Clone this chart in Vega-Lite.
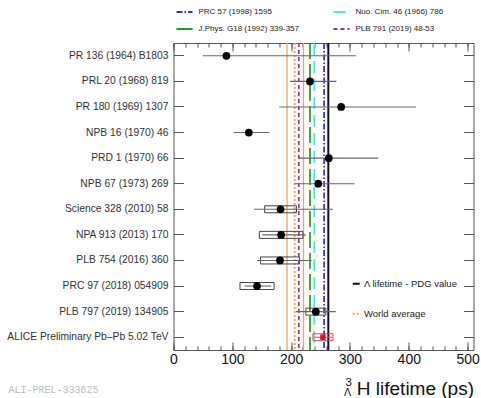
{
  "$schema": "https://vega.github.io/schema/vega-lite/v6.json",
  "width": 300,
  "height": 307,
  "autosize": {"type": "none"},
  "padding": {"left": 173.5, "top": 43, "right": 7.5, "bottom": 48},
  "background": "white",
  "title": {"text": "ALI-PREL-333625", "orient": "bottom", "anchor": "start", "frame": "bounds", "font": "Liberation Mono", "fontSize": 10, "fontWeight": "normal", "color": "#bbbbbb", "offset": -13, "dx": 2},
  "config": {
    "font": "Liberation Sans",
    "view": {"stroke": "#555555", "strokeWidth": 1},
    "axis": {"grid": false, "domain": false, "tickColor": "#555555", "tickWidth": 1}
  },
  "datasets": {
    "meas": [
      {"exp": "PR 136 (1964) B1803", "tau": 90, "lo": 50, "hi": 310, "slo": null, "shi": null},
      {"exp": "PRL 20 (1968) 819", "tau": 232, "lo": 198, "hi": 277, "slo": null, "shi": null},
      {"exp": "PR 180 (1969) 1307", "tau": 285, "lo": 180, "hi": 412, "slo": null, "shi": null},
      {"exp": "NPB 16 (1970) 46", "tau": 128, "lo": 102, "hi": 163, "slo": null, "shi": null},
      {"exp": "PRD 1 (1970) 66", "tau": 264, "lo": 212, "hi": 348, "slo": null, "shi": null},
      {"exp": "NPB 67 (1973) 269", "tau": 246, "lo": 205, "hi": 308, "slo": null, "shi": null},
      {"exp": "Science 328 (2010) 58", "tau": 182, "lo": 137, "hi": 271, "slo": 155, "shi": 209},
      {"exp": "NPA 913 (2013) 170", "tau": 183, "lo": 151, "hi": 225, "slo": 146, "shi": 220},
      {"exp": "PLB 754 (2016) 360", "tau": 181, "lo": 142, "hi": 235, "slo": 148, "shi": 214},
      {"exp": "PRC 97 (2018) 054909", "tau": 142, "lo": 121, "hi": 166, "slo": 113, "shi": 171},
      {"exp": "PLB 797 (2019) 134905", "tau": 242, "lo": 208, "hi": 276, "slo": 225, "shi": 259}
    ],
    "alice": [
      {"exp": "ALICE Preliminary Pb–Pb 5.02 TeV", "tau": 254, "lo": 239, "hi": 269, "slo": 237, "shi": 271}
    ],
    "theory": [
      {"name": "PRC 57 (1998) 1595", "tau": 256},
      {"name": "Nuo. Cim. 46 (1966) 786", "tau": 239.3},
      {"name": "J.Phys. G18 (1992) 339-357", "tau": 232},
      {"name": "PLB 791 (2019) 48-53", "tau": 213}
    ],
    "refs": [
      {"name": "Λ lifetime - PDG value", "tau": 263.2},
      {"name": "World average", "tau": 206}
    ],
    "band": [
      {"edge": "low", "tau": 193},
      {"edge": "high", "tau": 221}
    ]
  },
  "resolve": {
    "scale": {"color": "independent", "strokeDash": "independent"},
    "axis": {"x": "independent", "y": "independent"},
    "legend": {"color": "independent", "strokeDash": "independent"}
  },
  "layer": [
    {
      "data": {"name": "theory"},
      "mark": {"type": "rule", "strokeWidth": 1.7},
      "encoding": {
        "x": {"field": "tau", "type": "quantitative", "scale": {"domain": [0, 510], "nice": false, "zero": false},
          "axis": {"orient": "bottom", "values": [0, 100, 200, 300, 400, 500], "format": "d", "tickSize": -8, "labelFontSize": 14, "labelColor": "#111111", "labelPadding": 10, "labelFlush": false,
            "title": "H lifetime (ps)", "titleFontSize": 19, "titleFontWeight": "normal", "titleColor": "#111111", "titleAlign": "right", "titleAnchor": "end", "titleBaseline": "alphabetic", "titleX": 300, "titleY": 44}},
        "color": {"field": "name", "type": "nominal",
          "scale": {"domain": ["PRC 57 (1998) 1595", "J.Phys. G18 (1992) 339-357", "Nuo. Cim. 46 (1966) 786", "PLB 791 (2019) 48-53"], "range": ["#3333cc", "#229922", "#55dfe8", "#993399"]},
          "legend": {"orient": "none", "legendX": 2, "legendY": -40, "columns": 2, "title": null, "symbolType": "stroke", "symbolSize": 256, "symbolStrokeWidth": 2, "labelFontSize": 8, "labelColor": "#222222", "labelOffset": 5, "columnPadding": 30, "rowPadding": 4, "padding": 0, "labelLimit": 300}},
        "strokeDash": {"field": "name", "type": "nominal",
          "scale": {"domain": ["PRC 57 (1998) 1595", "J.Phys. G18 (1992) 339-357", "Nuo. Cim. 46 (1966) 786", "PLB 791 (2019) 48-53"], "range": [[6, 2, 1.5, 2], [16, 5], [12, 6], [4, 3]]}}
      }
    },
    {
      "data": {"name": "refs"},
      "mark": {"type": "rule", "strokeWidth": 2},
      "encoding": {
        "x": {"field": "tau", "type": "quantitative", "scale": {"domain": [0, 510], "nice": false, "zero": false},
          "axis": {"orient": "bottom", "values": [0, 20, 40, 60, 80, 100, 120, 140, 160, 180, 200, 220, 240, 260, 280, 300, 320, 340, 360, 380, 400, 420, 440, 460, 480, 500], "tickSize": -4, "labels": false, "title": null}},
        "color": {"field": "name", "type": "nominal",
          "scale": {"domain": ["Λ lifetime - PDG value", "World average"], "range": ["#111111", "#f2a65a"]},
          "legend": {"orient": "none", "legendX": 178, "legendY": 236, "title": null, "symbolType": "stroke", "symbolSize": 49, "symbolStrokeWidth": 2, "labelFontSize": 9.5, "labelColor": "#222222", "labelOffset": 3, "rowPadding": 19, "padding": 0, "labelLimit": 300}},
        "strokeDash": {"field": "name", "type": "nominal",
          "scale": {"domain": ["Λ lifetime - PDG value", "World average"], "range": [[1, 0], [2, 2]]}}
      }
    },
    {
      "data": {"name": "band"},
      "mark": {"type": "rule", "strokeWidth": 1.3, "color": "#f2a65a"},
      "encoding": {
        "x": {"field": "tau", "type": "quantitative", "scale": {"domain": [0, 510], "nice": false, "zero": false},
          "axis": {"orient": "top", "values": [0, 100, 200, 300, 400, 500], "tickSize": -8, "labels": false, "title": null}}
      }
    },
    {
      "data": {"name": "meas"},
      "transform": [{"filter": "isValid(datum.slo)"}],
      "mark": {"type": "bar", "size": 7, "fill": "transparent", "stroke": "#444444", "strokeWidth": 1},
      "encoding": {
        "x": {"field": "slo", "type": "quantitative", "scale": {"domain": [0, 510], "nice": false, "zero": false},
          "axis": {"orient": "top", "values": [0, 20, 40, 60, 80, 100, 120, 140, 160, 180, 200, 220, 240, 260, 280, 300, 320, 340, 360, 380, 400, 420, 440, 460, 480, 500], "tickSize": -4, "labels": false, "title": null}},
        "x2": {"field": "shi"},
        "y": {"field": "exp", "type": "nominal",
          "scale": {"type": "band", "domain": ["PR 136 (1964) B1803", "PRL 20 (1968) 819", "PR 180 (1969) 1307", "NPB 16 (1970) 46", "PRD 1 (1970) 66", "NPB 67 (1973) 269", "Science 328 (2010) 58", "NPA 913 (2013) 170", "PLB 754 (2016) 360", "PRC 97 (2018) 054909", "PLB 797 (2019) 134905", "ALICE Preliminary Pb–Pb 5.02 TeV"], "paddingInner": 0, "paddingOuter": 0},
          "axis": {"orient": "left", "tickSize": -10, "labelPadding": 15.5, "labelFontSize": 10.3, "labelColor": "#333333", "labelLimit": 250, "title": null}}
      }
    },
    {
      "data": {"name": "meas"},
      "mark": {"type": "rule", "color": "#666666", "strokeWidth": 1.1},
      "encoding": {
        "x": {"field": "lo", "type": "quantitative", "scale": {"domain": [0, 510], "nice": false, "zero": false},
          "axis": {"orient": "bottom", "labels": false, "ticks": false, "title": "3", "titleFontSize": 11.5, "titleFontWeight": "normal", "titleColor": "#111111", "titleAlign": "left", "titleAnchor": "start", "titleBaseline": "alphabetic", "titleX": 171.5, "titleY": 35}},
        "x2": {"field": "hi"},
        "y": {"field": "exp", "type": "nominal",
          "scale": {"type": "band", "domain": ["PR 136 (1964) B1803", "PRL 20 (1968) 819", "PR 180 (1969) 1307", "NPB 16 (1970) 46", "PRD 1 (1970) 66", "NPB 67 (1973) 269", "Science 328 (2010) 58", "NPA 913 (2013) 170", "PLB 754 (2016) 360", "PRC 97 (2018) 054909", "PLB 797 (2019) 134905", "ALICE Preliminary Pb–Pb 5.02 TeV"], "paddingInner": 0, "paddingOuter": 0},
          "axis": {"orient": "right", "tickSize": -10, "labels": false, "title": null}}
      }
    },
    {
      "data": {"name": "meas"},
      "mark": {"type": "point", "shape": "circle", "filled": true, "color": "#000000", "size": 60, "opacity": 1},
      "encoding": {
        "x": {"field": "tau", "type": "quantitative", "scale": {"domain": [0, 510], "nice": false, "zero": false},
          "axis": {"orient": "bottom", "labels": false, "ticks": false, "title": "Λ", "titleFontSize": 10.5, "titleFontWeight": "normal", "titleColor": "#111111", "titleAlign": "left", "titleAnchor": "start", "titleBaseline": "alphabetic", "titleX": 170, "titleY": 45.5}},
        "y": {"field": "exp", "type": "nominal", "axis": null,
          "scale": {"type": "band", "domain": ["PR 136 (1964) B1803", "PRL 20 (1968) 819", "PR 180 (1969) 1307", "NPB 16 (1970) 46", "PRD 1 (1970) 66", "NPB 67 (1973) 269", "Science 328 (2010) 58", "NPA 913 (2013) 170", "PLB 754 (2016) 360", "PRC 97 (2018) 054909", "PLB 797 (2019) 134905", "ALICE Preliminary Pb–Pb 5.02 TeV"], "paddingInner": 0, "paddingOuter": 0}}
      }
    },
    {
      "data": {"name": "alice"},
      "mark": {"type": "bar", "size": 7, "fill": "transparent", "stroke": "#e8434b", "strokeWidth": 1},
      "encoding": {
        "x": {"field": "slo", "type": "quantitative", "axis": null, "scale": {"domain": [0, 510], "nice": false, "zero": false}},
        "x2": {"field": "shi"},
        "y": {"field": "exp", "type": "nominal", "axis": null,
          "scale": {"type": "band", "domain": ["PR 136 (1964) B1803", "PRL 20 (1968) 819", "PR 180 (1969) 1307", "NPB 16 (1970) 46", "PRD 1 (1970) 66", "NPB 67 (1973) 269", "Science 328 (2010) 58", "NPA 913 (2013) 170", "PLB 754 (2016) 360", "PRC 97 (2018) 054909", "PLB 797 (2019) 134905", "ALICE Preliminary Pb–Pb 5.02 TeV"], "paddingInner": 0, "paddingOuter": 0}}
      }
    },
    {
      "data": {"name": "alice"},
      "mark": {"type": "rule", "color": "#e8434b", "strokeWidth": 1},
      "encoding": {
        "x": {"field": "lo", "type": "quantitative", "axis": null, "scale": {"domain": [0, 510], "nice": false, "zero": false}},
        "x2": {"field": "hi"},
        "y": {"field": "exp", "type": "nominal", "axis": null,
          "scale": {"type": "band", "domain": ["PR 136 (1964) B1803", "PRL 20 (1968) 819", "PR 180 (1969) 1307", "NPB 16 (1970) 46", "PRD 1 (1970) 66", "NPB 67 (1973) 269", "Science 328 (2010) 58", "NPA 913 (2013) 170", "PLB 754 (2016) 360", "PRC 97 (2018) 054909", "PLB 797 (2019) 134905", "ALICE Preliminary Pb–Pb 5.02 TeV"], "paddingInner": 0, "paddingOuter": 0}}
      }
    },
    {
      "data": {"name": "alice"},
      "mark": {"type": "point", "shape": "square", "filled": true, "color": "#e01020", "size": 30, "opacity": 1},
      "encoding": {
        "x": {"field": "tau", "type": "quantitative", "axis": null, "scale": {"domain": [0, 510], "nice": false, "zero": false}},
        "y": {"field": "exp", "type": "nominal", "axis": null,
          "scale": {"type": "band", "domain": ["PR 136 (1964) B1803", "PRL 20 (1968) 819", "PR 180 (1969) 1307", "NPB 16 (1970) 46", "PRD 1 (1970) 66", "NPB 67 (1973) 269", "Science 328 (2010) 58", "NPA 913 (2013) 170", "PLB 754 (2016) 360", "PRC 97 (2018) 054909", "PLB 797 (2019) 134905", "ALICE Preliminary Pb–Pb 5.02 TeV"], "paddingInner": 0, "paddingOuter": 0}}
      }
    }
  ]
}
